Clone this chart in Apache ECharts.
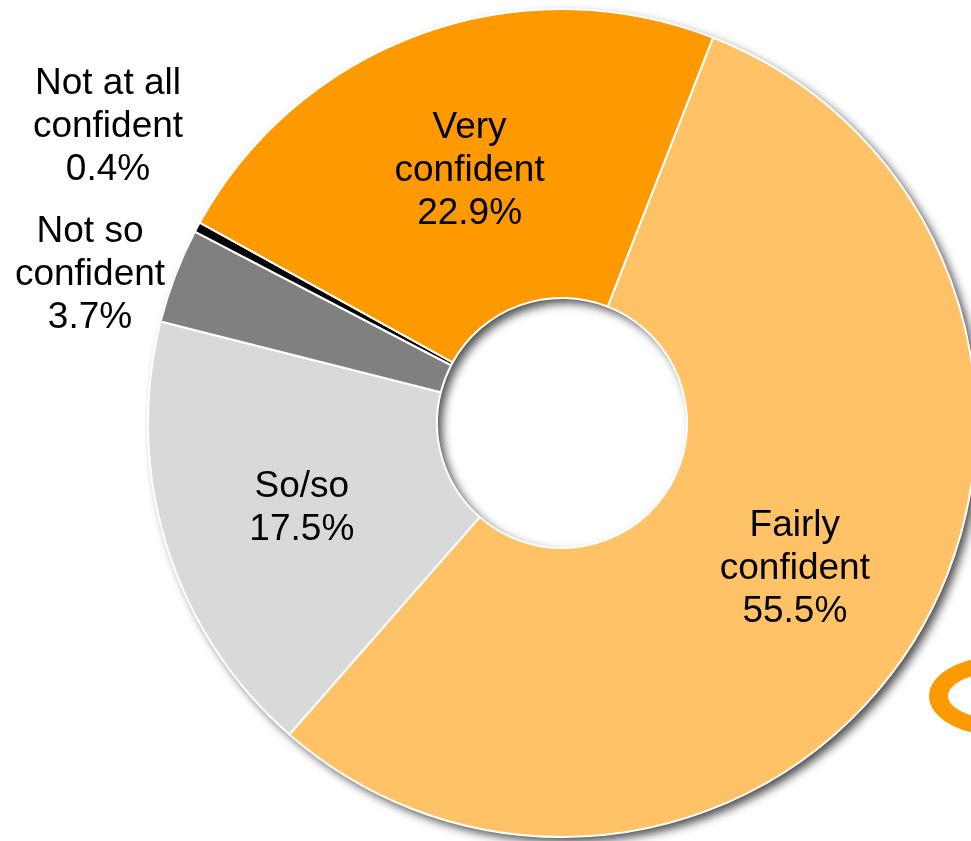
<!DOCTYPE html>
<html>
<head>
<meta charset="utf-8">
<script src="https://cdn.jsdelivr.net/npm/echarts@6/dist/echarts.min.js"></script>
<style>
html,body{margin:0;padding:0;background:#fff;}
#chart{width:971px;height:841px;}
</style>
</head>
<body>
<div id="chart"></div>
<script>
// Data (clockwise order starting at top-right)
const categories = ['Fairly\nconfident', 'So/so', 'Not so\nconfident', 'Not at all\nconfident', 'Very\nconfident'];
const values = [55.5, 17.5, 3.7, 0.4, 22.9];
const colors = ['#FFC266', '#D9D9D9', '#808080', '#000000', '#FF9900'];
const outsideLabels = [2, 3]; // indices labelled outside the ring

const chart = echarts.init(document.getElementById('chart'), null, {renderer: 'canvas'});

const CENTER = [562, 423];
const RADIUS = [125, 414];

const data = categories.map((name, i) => ({
  name: name,
  value: values[i],
  itemStyle: {color: colors[i]},
  label: outsideLabels.includes(i)
    ? {position: 'outside', width: 220, overflow: 'none'}
    : {position: 'inside', offset: [0, 4]},
  labelLine: {show: false}
}));

const option = {
  animation: false,
  backgroundColor: '#ffffff',
  graphic: [
    {type: 'ellipse', shape: {cx: 1001, cy: 696, rx: 72, ry: 40}, style: {fill: '#FF9900'}, z: 0},
    {type: 'ellipse', shape: {cx: 1010, cy: 696, rx: 62, ry: 25}, style: {fill: '#ffffff'}, z: 1}
  ],
  series: [
    {
      type: 'pie',
      silent: true,
      center: CENTER,
      radius: RADIUS,
      z: 1,
      label: {show: false},
      labelLine: {show: false},
      itemStyle: {
        color: '#ffffff',
        shadowBlur: 10,
        shadowOffsetX: 5,
        shadowOffsetY: 5,
        shadowColor: 'rgba(0,0,0,0.7)'
      },
      data: [{value: 1, name: 'shadow'}]
    },
    {
      type: 'pie',
      center: CENTER,
      radius: RADIUS,
      startAngle: 68.6,
      clockwise: true,
      z: 2,
      itemStyle: {borderColor: '#ffffff', borderWidth: 2},
      label: {
        show: true,
        formatter: p => p.name + '\n' + p.value.toFixed(1) + '%',
        fontFamily: 'Liberation Sans, Arial, sans-serif',
        fontSize: 37,
        lineHeight: 43,
        color: '#000000',
        align: 'center'
      },
      labelLayout: function (params) {
        if (params.dataIndex === 2) {
          return {x: 90, y: 275, align: 'center', verticalAlign: 'middle'};
        }
        if (params.dataIndex === 3) {
          return {x: 108, y: 127, align: 'center', verticalAlign: 'middle'};
        }
        return {};
      },
      emphasis: {disabled: true},
      data: data
    }
  ]
};

chart.setOption(option);
</script>
</body>
</html>
